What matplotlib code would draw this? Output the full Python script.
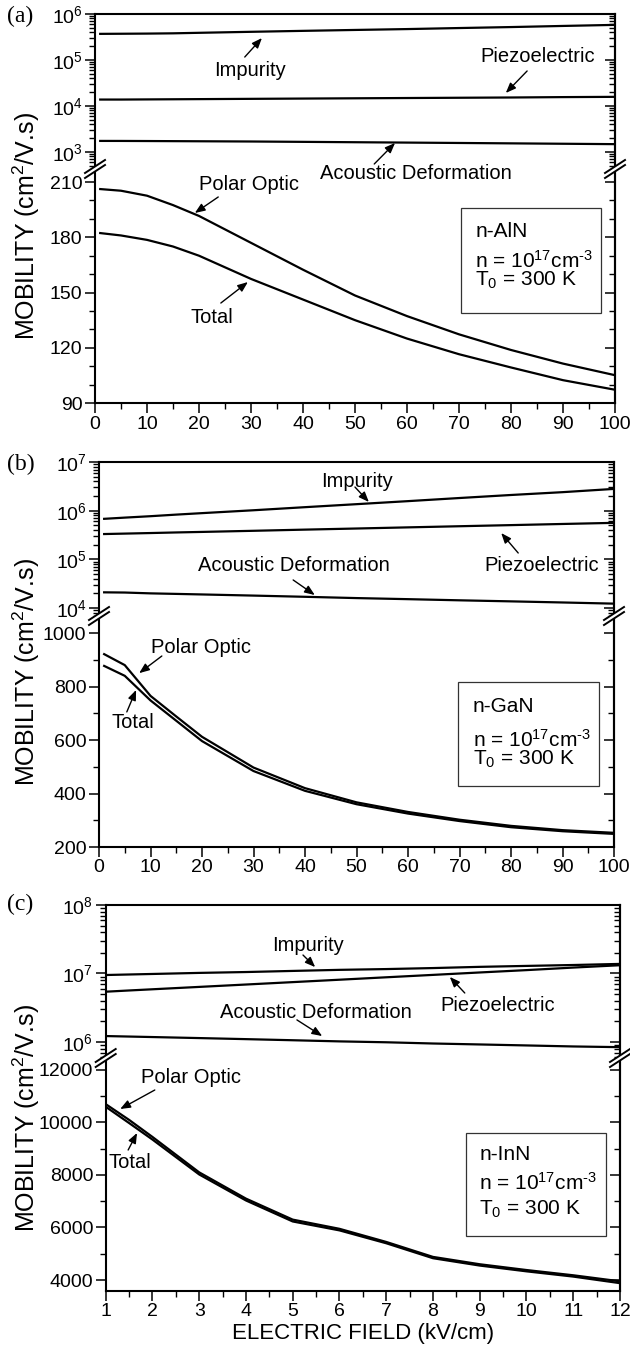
import numpy as np
import matplotlib
matplotlib.use('Agg')
import matplotlib.pyplot as plt
from matplotlib.ticker import MultipleLocator, LogLocator, NullFormatter
from matplotlib.lines import Line2D
from matplotlib.patches import Rectangle, Polygon

plt.rcParams['font.family'] = 'Liberation Sans'
plt.rcParams['mathtext.fontset'] = 'custom'
plt.rcParams['mathtext.rm'] = 'Liberation Sans'
plt.rcParams['mathtext.it'] = 'Liberation Sans:italic'
plt.rcParams['mathtext.bf'] = 'Liberation Sans:bold'

# ---- mobility vs electric field, n = 1e17 cm^-3, T0 = 300 K ----
field_ab = [1, 5, 10, 15, 20, 30, 40, 50, 60, 70, 80, 90, 100]   # kV/cm
field_c = [1, 1.5, 2, 3, 4, 5, 6, 7, 8, 9, 10, 11, 12]           # kV/cm

# n-AlN
aln_impurity = [3.7e5, 3.72e5, 3.75e5, 3.8e5, 3.9e5, 4.1e5, 4.3e5, 4.5e5, 4.7e5, 4.95e5, 5.2e5, 5.5e5, 5.8e5]
aln_piezo = [1.38e4, 1.38e4, 1.39e4, 1.40e4, 1.41e4, 1.43e4, 1.45e4, 1.47e4, 1.49e4, 1.51e4, 1.53e4, 1.56e4, 1.58e4]
aln_acoustic = [1740, 1738, 1730, 1720, 1710, 1690, 1660, 1630, 1600, 1570, 1540, 1510, 1480]
aln_polar = [206.2, 205.3, 202.6, 197.5, 191.6, 177.0, 162.4, 148.4, 137.2, 127.3, 118.8, 111.4, 105.1]
aln_total = [182.3, 181.0, 178.6, 175.0, 170.0, 157.4, 146.2, 135.0, 125.0, 116.5, 109.3, 102.4, 97.2]

# n-GaN
gan_impurity = [6.8e5, 7.2e5, 7.7e5, 8.3e5, 8.9e5, 1.02e6, 1.18e6, 1.36e6, 1.57e6, 1.82e6, 2.1e6, 2.4e6, 2.8e6]
gan_piezo = [3.31e5, 3.38e5, 3.47e5, 3.57e5, 3.66e5, 3.86e5, 4.08e5, 4.30e5, 4.54e5, 4.79e5, 5.05e5, 5.33e5, 5.62e5]
gan_acoustic = [2.1e4, 2.08e4, 2.0e4, 1.95e4, 1.9e4, 1.8e4, 1.7e4, 1.6e4, 1.52e4, 1.44e4, 1.37e4, 1.3e4, 1.23e4]
gan_polar = [921, 880, 765, 688, 612, 497, 420, 367, 331, 302, 279, 263, 253]
gan_total = [877, 840, 748, 672, 596, 484, 410, 360, 325, 297, 274, 259, 249]

# n-InN
inn_impurity = [9.5e6, 9.67e6, 9.84e6, 1.02e7, 1.05e7, 1.09e7, 1.13e7, 1.16e7, 1.2e7, 1.25e7, 1.29e7, 1.33e7, 1.38e7]
inn_piezo = [5.42e6, 5.65e6, 5.88e6, 6.37e6, 6.9e6, 7.48e6, 8.11e6, 8.8e6, 9.54e6, 1.035e7, 1.12e7, 1.22e7, 1.32e7]
inn_acoustic = [1.22e6, 1.2e6, 1.18e6, 1.14e6, 1.1e6, 1.06e6, 1.02e6, 9.9e5, 9.5e5, 9.2e5, 8.9e5, 8.6e5, 8.4e5]
inn_polar = [10700, 10100, 9450, 8100, 7100, 6300, 5950, 5450, 4880, 4600, 4380, 4180, 3950]
inn_total = [10600, 9980, 9350, 8020, 7030, 6230, 5890, 5400, 4830, 4550, 4330, 4130, 3880]

W, H = 630, 1351
LW = 1.6
fig = plt.figure(figsize=(W / 100, H / 100), dpi=100)


def rect(x0, x1, y0, y1):
    # pixel box, origin top-left -> figure fraction rect
    return [x0 / W, 1 - y1 / H, (x1 - x0) / W, (y1 - y0) / H]


def log_locators(axis):
    axis.set_major_locator(LogLocator(base=10, numticks=50))
    axis.set_minor_locator(LogLocator(base=10, subs=np.arange(2, 10), numticks=50))
    axis.set_minor_formatter(NullFormatter())


def style_ticks(ax):
    for s in ax.spines.values():
        s.set_linewidth(1.5)
    ax.tick_params(which='major', direction='out', length=7, width=1.1, labelsize=14, pad=2)
    ax.tick_params(which='minor', direction='out', length=4, width=1.0)


def right_ticks(ax, log, ymaj=None, ymin=None):
    sec = ax.secondary_yaxis('right')
    if log:
        log_locators(sec.yaxis)
    else:
        sec.yaxis.set_major_locator(MultipleLocator(ymaj))
        sec.yaxis.set_minor_locator(MultipleLocator(ymin))
    sec.spines['right'].set_linewidth(1.5)
    sec.tick_params(which='major', direction='in', length=7, width=1.1, labelright=False)
    sec.tick_params(which='minor', direction='in', length=4, width=1.0, labelright=False)


def break_mark(x, y):
    # "//" across a spine where the two axis segments meet
    dx, dy, off = 10, 6.5, 2.5
    tr = fig.transFigure

    def p(px, py):
        return (px / W, 1 - py / H)
    gap = Polygon([p(x - dx, y - off + dy), p(x + dx, y - off - dy),
                   p(x + dx, y + off - dy), p(x - dx, y + off + dy)],
                  closed=True, transform=tr, facecolor='white', edgecolor='none', zorder=10)
    fig.patches.append(gap)
    for o in (-off, off):
        (xa, ya), (xb, yb) = p(x - dx, y + o + dy), p(x + dx, y + o - dy)
        fig.lines.append(Line2D([xa, xb], [ya, yb], transform=tr, color='black', lw=1.4, zorder=11))


def arrow(ax, tail, head):
    ax.annotate('', xy=head, xytext=tail, annotation_clip=False,
                arrowprops=dict(arrowstyle='-|>,head_length=0.55,head_width=0.22',
                                mutation_scale=11, color='black', lw=1.0,
                                shrinkA=0, shrinkB=0))


def panel(px, py, log_lim, lin_lim, xlim, xmaj, xmin, ymaj, ymin):
    x0, x1 = px
    ytop, ybrk, ybot = py
    ax_log = fig.add_axes(rect(x0, x1, ytop, ybrk))
    ax_lin = fig.add_axes(rect(x0, x1, ybrk, ybot))

    ax_log.set_yscale('log')
    ax_log.set_ylim(*log_lim)
    ax_log.set_xlim(*xlim)
    log_locators(ax_log.yaxis)
    ax_log.spines['bottom'].set_visible(False)
    ax_log.patch.set_alpha(0)
    style_ticks(ax_log)
    ax_log.tick_params(axis='x', which='both', bottom=False, labelbottom=False)

    ax_lin.set_ylim(*lin_lim)
    ax_lin.set_xlim(*xlim)
    ax_lin.yaxis.set_major_locator(MultipleLocator(ymaj))
    ax_lin.yaxis.set_minor_locator(MultipleLocator(ymin))
    ax_lin.xaxis.set_major_locator(MultipleLocator(xmaj))
    ax_lin.xaxis.set_minor_locator(MultipleLocator(xmin))
    ax_lin.spines['top'].set_visible(False)
    ax_lin.patch.set_alpha(0)
    style_ticks(ax_lin)

    right_ticks(ax_log, True)
    right_ticks(ax_lin, False, ymaj, ymin)
    break_mark(x0, ybrk)
    break_mark(x1, ybrk)
    return ax_log, ax_lin


def info_box(ax, x0, x1, y0, y1, tx, lines):
    ax.add_patch(Rectangle((x0, y1), x1 - x0, y0 - y1, fill=False,
                           edgecolor='#333333', lw=0.9, zorder=3))
    for yb, s in lines:
        ax.text(tx, yb, s, fontsize=15, ha='left', va='baseline')


DENS = 'n = 10$^{17}$cm$^{\\text{-3}}$'
TEMP = 'T$_0$ = 300 K'

# (a) n-AlN
a_log, a_lin = panel((95, 615), (14, 169, 403), (10 ** 2.63, 1e6), (90, 217.1),
                     (0, 100), 10, 5, 30, 10)
a_log.plot(field_ab, aln_impurity, color='black', lw=LW)
a_log.plot(field_ab, aln_piezo, color='black', lw=LW)
a_log.plot(field_ab, aln_acoustic, color='black', lw=LW)
a_lin.plot(field_ab, aln_polar, color='black', lw=LW)
a_lin.plot(field_ab, aln_total, color='black', lw=LW)

a_log.text(29.8, 5.77e4, 'Impurity', fontsize=14.5, ha='center', va='center')
arrow(a_log, (28.8, 1.16e5), (32.1, 3.0e5))
a_log.text(85.2, 1.22e5, 'Piezoelectric', fontsize=14.5, ha='center', va='center')
arrow(a_log, (83.1, 5.77e4), (79.0, 1.92e4))
a_log.text(61.7, 333, 'Acoustic Deformation', fontsize=14.5, ha='center', va='center')
arrow(a_log, (53.7, 548), (57.7, 1571))
a_lin.text(29.6, 208.9, 'Polar Optic', fontsize=14.5, ha='center', va='center')
arrow(a_lin, (23.7, 201.9), (19.2, 193.2))
a_lin.text(22.5, 136.7, 'Total', fontsize=14.5, ha='center', va='center')
arrow(a_lin, (24.2, 144.3), (29.4, 155.7))
info_box(a_lin, 70.4, 97.3, 195.9, 138.9, 73.1,
         [(180.1, 'n-AlN'), (163.3, DENS), (153.5, TEMP)])

# (b) n-GaN
b_log, b_lin = panel((99, 614), (462, 616, 847), (10 ** 3.836, 1e7), (200, 1063.6),
                     (0, 100), 10, 5, 200, 100)
b_log.plot(field_ab, gan_impurity, color='black', lw=LW)
b_log.plot(field_ab, gan_piezo, color='black', lw=LW)
b_log.plot(field_ab, gan_acoustic, color='black', lw=LW)
b_lin.plot(field_ab, gan_polar, color='black', lw=LW)
b_lin.plot(field_ab, gan_total, color='black', lw=LW)

b_log.text(50.1, 4.07e6, 'Impurity', fontsize=14.5, ha='center', va='center')
arrow(b_log, (49.7, 3.06e6), (52.4, 1.51e6))
b_log.text(86.0, 7.3e4, 'Piezoelectric', fontsize=14.5, ha='center', va='center')
arrow(b_log, (81.4, 1.35e5), (78.1, 3.47e5))
b_log.text(37.9, 7.3e4, 'Acoustic Deformation', fontsize=14.5, ha='center', va='center')
arrow(b_log, (37.7, 3.77e4), (41.9, 1.85e4))
b_lin.text(19.8, 944, 'Polar Optic', fontsize=14.5, ha='center', va='center')
arrow(b_lin, (12.2, 914), (7.8, 850))
b_lin.text(6.6, 664, 'Total', fontsize=14.5, ha='center', va='center')
arrow(b_lin, (5.4, 705), (7.2, 787))
info_box(b_lin, 69.7, 97.1, 817, 428, 72.6,
         [(705, 'n-GaN'), (574, DENS), (507, TEMP)])

# (c) n-InN
c_log, c_lin = panel((105.7, 620), (905, 1058, 1291), (10 ** 5.766, 1e8), (3581, 12457),
                     (1, 12), 1, 0.5, 2000, 1000)
c_log.plot(field_c, inn_impurity, color='black', lw=LW)
c_log.plot(field_c, inn_piezo, color='black', lw=LW)
c_log.plot(field_c, inn_acoustic, color='black', lw=LW)
c_lin.plot(field_c, inn_polar, color='black', lw=LW)
c_lin.plot(field_c, inn_total, color='black', lw=LW)

c_log.text(5.33, 2.6e7, 'Impurity', fontsize=14.5, ha='center', va='center')
arrow(c_log, (5.22, 1.86e7), (5.48, 1.24e7))
c_log.text(9.39, 3.36e6, 'Piezoelectric', fontsize=14.5, ha='center', va='center')
arrow(c_log, (8.68, 5.19e6), (8.36, 8.9e6))
c_log.text(5.50, 2.65e6, 'Acoustic Deformation', fontsize=14.5, ha='center', va='center')
arrow(c_log, (5.09, 2.1e6), (5.63, 1.22e6))
c_lin.text(2.82, 11733, 'Polar Optic', fontsize=14.5, ha='center', va='center')
arrow(c_lin, (2.05, 11238), (1.31, 10514))
c_lin.text(1.52, 8495, 'Total', fontsize=14.5, ha='center', va='center')
arrow(c_lin, (1.48, 8952), (1.67, 9600))
info_box(c_lin, 8.70, 11.69, 9600, 5675, 8.99,
         [(8571, 'n-InN'), (7428, DENS), (6476, TEMP)])
c_lin.set_xlabel('ELECTRIC FIELD (kV/cm)', fontsize=16, labelpad=2)

# shared labels
for yc in (226, 672, 1118):
    fig.text(26 / W, 1 - yc / H, 'MOBILITY (cm$^2$/V.s)', rotation=90,
             ha='center', va='center', fontsize=18)
for yc, lab in ((16, '(a)'), (464, '(b)'), (904, '(c)')):
    fig.text(7 / W, 1 - yc / H, lab, family='Liberation Serif', fontsize=17,
             ha='left', va='center')

fig.savefig('out.png', dpi=100)
